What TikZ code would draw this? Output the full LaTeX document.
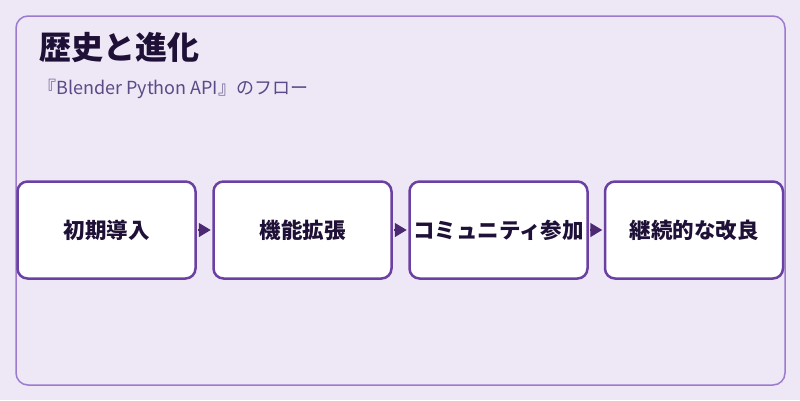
\documentclass[tikz,border=0pt]{standalone}
\usepackage{fontspec}
\setmainfont{Noto Sans CJK JP}
\usetikzlibrary{arrows.meta}
\definecolor{bg}{HTML}{EDE7F6}
\definecolor{frame}{HTML}{9C7BCF}
\definecolor{boxline}{HTML}{6A40A2}
\definecolor{arrowc}{HTML}{4B2A72}
\definecolor{titlec}{HTML}{1E1036}
\definecolor{subc}{HTML}{5B4A86}
\tikzset{
  stepbox/.style={draw=boxline, line width=2.5pt, fill=white, rounded corners=10pt,
    minimum width=178pt, minimum height=97pt, inner sep=0pt, font=\fontsize{21.5}{24}\selectfont\bfseries, text=titlec},
  flow/.style={draw=arrowc, line width=1.5pt, -{Triangle[length=12pt,width=14pt]}, color=arrowc, shorten >=1.5pt, shorten <=1.5pt}
}
\begin{document}
\begin{tikzpicture}[x=1pt,y=-1pt]
\fill[bg] (0,0) rectangle (800,400);
\useasboundingbox (0,0) rectangle (800,400);
\draw[frame, line width=1.5pt, rounded corners=12pt] (16,16) rectangle (785,385);
\node[anchor=west, text=titlec, font=\fontsize{32}{36}\selectfont\bfseries, inner sep=0pt] (title) at (39,47) {歴史と進化};
\node[anchor=west, text=subc, font=\fontsize{18}{21}\selectfont, inner sep=0pt] (sub) at (38,89) {『Blender Python API』のフロー};
\node[stepbox] (b1) at (106.5,230) {初期導入};
\node[stepbox] (b2) at (302.5,230) {機能拡張};
\node[stepbox] (b3) at (498.5,230) {コミュニティ参加};
\node[stepbox] (b4) at (694,230) {継続的な改良};
\draw[flow] (b1.east) -- (b2.west);
\draw[flow] (b2.east) -- (b3.west);
\draw[flow] (b3.east) -- (b4.west);
\end{tikzpicture}
\end{document}
